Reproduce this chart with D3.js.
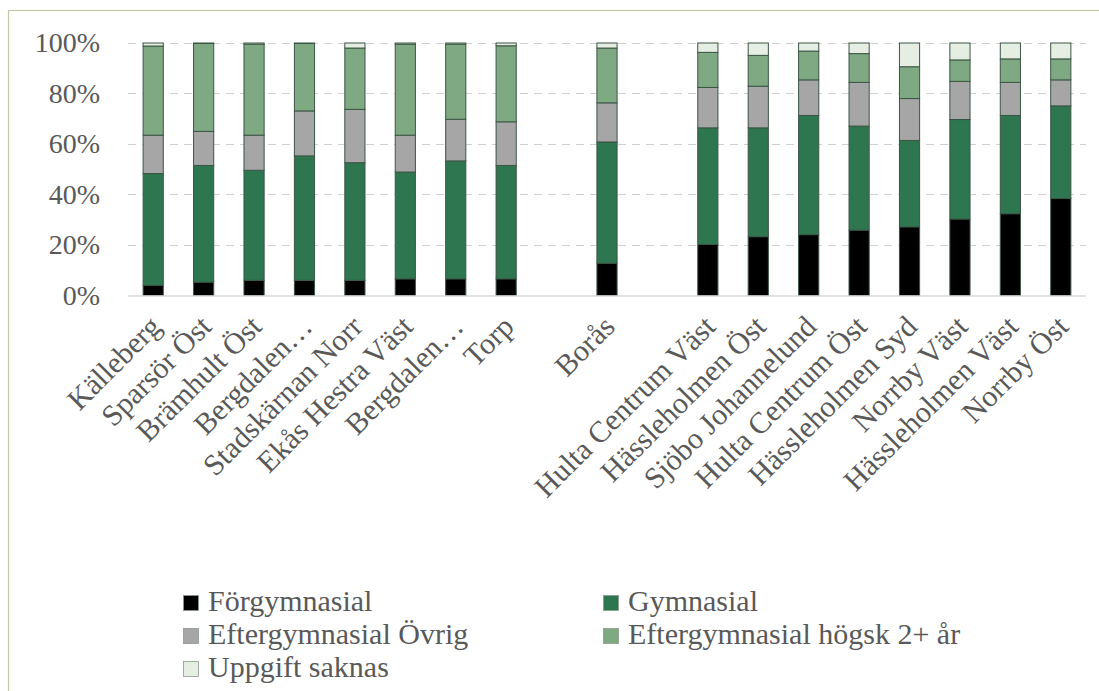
<!DOCTYPE html>
<html>
<head>
<meta charset="utf-8">
<script src="https://cdn.jsdelivr.net/npm/d3@7"></script>
<style>
  html, body { margin: 0; padding: 0; background: #fff; }
  svg { display: block; font-family: "Liberation Serif", "DejaVu Serif", serif; }
  svg text { font-family: "Liberation Serif", "DejaVu Serif", serif; }
</style>
</head>
<body>
<svg id="chart" width="1099" height="691"></svg>
<script>
// ---- data ----
const categories = ["Källeberg","Sparsör Öst","Brämhult Öst","Bergdalen…","Stadskärnan Norr","Ekås Hestra Väst","Bergdalen…","Torp","","Borås","","Hulta Centrum Väst","Hässleholmen Öst","Sjöbo Johannelund","Hulta Centrum Öst","Hässleholmen Syd","Norrby Väst","Hässleholmen Väst","Norrby Öst"];
const forgymnasial = [4.0,5.3,6.0,6.0,6.0,6.6,6.6,6.6,null,12.8,null,20.2,23.3,24.1,25.9,27.2,30.3,32.4,38.4];
const gymnasial    = [44.3,46.2,43.6,49.3,46.6,42.3,46.7,44.9,null,48.0,null,46.2,43.1,47.2,41.2,34.2,39.4,38.9,36.7];
const eftergymOvrig = [15.2,13.5,13.9,17.8,21.1,14.6,16.5,17.3,null,15.5,null,16.0,16.5,14.1,17.3,16.6,15.1,13.1,10.3];
const eftergymHogsk = [35.3,34.8,36.0,26.7,24.3,36.0,29.7,30.1,null,21.7,null,13.9,12.2,11.4,11.4,12.6,8.5,9.3,8.3];
const uppgiftSaknas = [1.2,0.2,0.5,0.2,2.0,0.5,0.5,1.1,null,2.0,null,3.7,4.9,3.2,4.2,9.4,6.7,6.3,6.3];
const seriesNames = ["Förgymnasial","Gymnasial","Eftergymnasial Övrig","Eftergymnasial högsk 2+ år","Uppgift saknas"];
const seriesColors = ["#000000","#2d7650","#a6a6a6","#7fa982","#e6eee4"];
const yTicks = [0,20,40,60,80,100];

// ---- build table ----
const seriesArrays = [forgymnasial, gymnasial, eftergymOvrig, eftergymHogsk, uppgiftSaknas];
const rows = categories.map((c, i) => {
  const r = { idx: i, name: c, blank: forgymnasial[i] === null };
  seriesNames.forEach((s, k) => { r[s] = seriesArrays[k][i] === null ? 0 : seriesArrays[k][i]; });
  return r;
});

const svg = d3.select("#chart");
const textColor = "#595959";
const serif = "'Liberation Serif', 'DejaVu Serif', serif";

// outer chart border
svg.append("rect").attr("x", 8.5).attr("y", 10.5).attr("width", 1200).attr("height", 800)
  .attr("fill", "none").attr("stroke", "#c3c7a8").attr("stroke-width", 1.2);

const x = d3.scaleBand().domain(categories.map((c, i) => i)).range([128, 1086])
  .paddingInner(0.6).paddingOuter(0.3);
const y = d3.scaleLinear().domain([0, 100]).range([295.5, 43]);

// gridlines
svg.append("g").selectAll("line").data(yTicks.filter(t => t > 0)).join("line")
  .attr("x1", 128).attr("x2", 1086)
  .attr("y1", d => Math.round(y(d)) + 0.5).attr("y2", d => Math.round(y(d)) + 0.5)
  .attr("stroke", "#d0d0d0").attr("stroke-width", 1).attr("stroke-dasharray", "8,6");

// y axis labels
const yAxis = d3.axisLeft(y).tickValues(yTicks).tickFormat(d => d + "%").tickSize(0).tickPadding(0);
const yg = svg.append("g").attr("transform", "translate(100,0)").call(yAxis)
  .attr("font-family", serif);
yg.select(".domain").remove();
yg.selectAll("text").attr("fill", textColor).style("font-size", "28px")
  .style("font-family", serif);

// stacked bars
const stack = d3.stack().keys(seriesNames);
const stacked = stack(rows);
const layers = svg.append("g").selectAll("g").data(stacked).join("g")
  .attr("fill", (d, k) => seriesColors[k]);
layers.selectAll("rect").data(d => d.filter(p => !p.data.blank)).join("rect")
  .attr("x", p => x(p.data.idx))
  .attr("width", x.bandwidth())
  .attr("y", p => y(p[1]))
  .attr("height", p => Math.max(0, y(p[0]) - y(p[1])))
  .attr("stroke", "#3b5545").attr("stroke-width", 1);

// baseline
svg.append("line").attr("x1", 128).attr("x2", 1086).attr("y1", 296).attr("y2", 296)
  .attr("stroke", "#d9d9d9").attr("stroke-width", 1.5);

// x axis labels
const xAxis = d3.axisBottom(x).tickFormat(i => categories[i]).tickSize(0).tickPadding(0);
const xg = svg.append("g").attr("transform", "translate(0,296)").call(xAxis)
  .attr("font-family", serif);
xg.select(".domain").remove();
xg.selectAll("text")
  .attr("fill", textColor).style("font-size", "30px")
  .style("font-family", serif)
  .attr("text-anchor", "end")
  .attr("dy", null).attr("y", 0)
  .attr("transform", "translate(2,25) rotate(-45)")
  .attr("dominant-baseline", "central");

// legend
const legendPos = [[183, 603], [603, 603], [183, 636], [603, 636], [183, 669]];
const lg = svg.append("g").selectAll("g").data(seriesNames).join("g")
  .attr("transform", (d, k) => `translate(${legendPos[k][0]},${legendPos[k][1]})`);
lg.append("rect").attr("x", 0.5).attr("y", -7.5).attr("width", 15).attr("height", 15)
  .attr("fill", (d, k) => seriesColors[k]).attr("stroke", "#8a9a8c").attr("stroke-width", 0.8);
lg.append("text").attr("x", 25).attr("y", 8).text(d => d)
  .attr("fill", textColor).style("font-size", "30px").style("font-family", serif);
</script>
</body>
</html>
